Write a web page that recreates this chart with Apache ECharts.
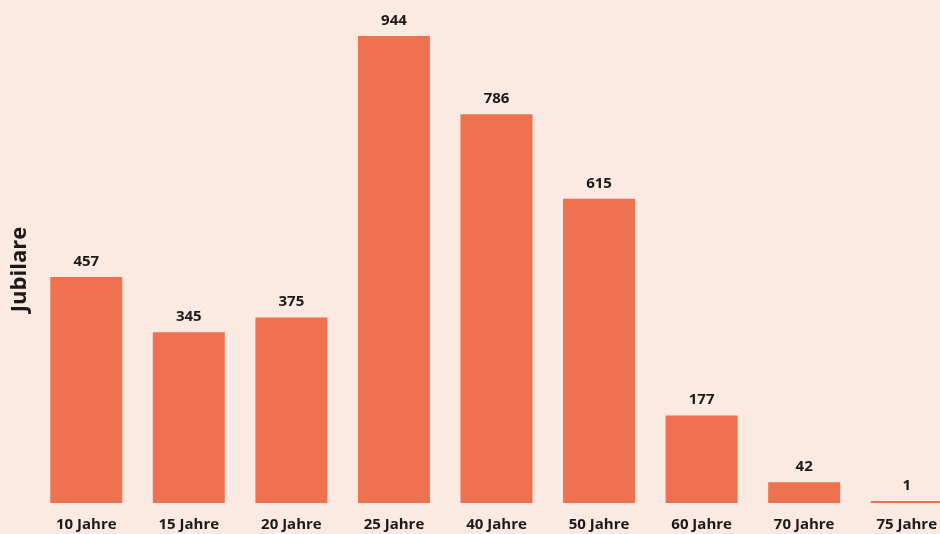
<!DOCTYPE html>
<html>
<head>
<meta charset="utf-8">
<script src="https://cdn.jsdelivr.net/npm/echarts@6/dist/echarts.min.js"></script>
<style>
  html, body { margin: 0; padding: 0; background: #fbe9e2; overflow: hidden; }
  #chart { width: 958px; height: 534px; }
</style>
</head>
<body>
<div id="chart"></div>
<script>
// Jubiläen nach Dienstjahren
const categories = ['10 Jahre', '15 Jahre', '20 Jahre', '25 Jahre', '40 Jahre', '50 Jahre', '60 Jahre', '70 Jahre', '75 Jahre'];
const jubilare = [457, 345, 375, 944, 786, 615, 177, 42, 1];

let myChart = echarts.init(document.getElementById('chart'));
let option = {
  backgroundColor: '#fbe9e2',
  textStyle: { fontFamily: 'Open Sans' },
  grid: {
    left: 35,
    right: 0,
    top: 36,
    bottom: 31
  },
  xAxis: {
    type: 'category',
    data: categories,
    axisLine: { show: false },
    axisTick: { show: false },
    axisLabel: {
      margin: 14,
      fontSize: 15,
      fontWeight: 'bold',
      color: '#1a1a1a',
      interval: 0
    }
  },
  yAxis: {
    type: 'value',
    min: 0,
    max: 944,
    name: 'Jubilare',
    nameLocation: 'middle',
    nameGap: 4,
    nameTextStyle: { fontSize: 22, fontWeight: 'bold', color: '#1a1a1a' },
    axisLine: { show: false },
    axisTick: { show: false },
    axisLabel: { show: false },
    splitLine: { show: false }
  },
  series: [
    {
      name: 'Jubilare',
      type: 'bar',
      data: jubilare,
      barWidth: 72,
      barMinHeight: 2,
      itemStyle: { color: '#ee7150' },
      label: {
        show: true,
        position: 'top',
        distance: 8,
        fontSize: 15,
        fontWeight: 'bold',
        color: '#1a1a1a'
      }
    }
  ]
};
myChart.setOption(option);
</script>
</body>
</html>
